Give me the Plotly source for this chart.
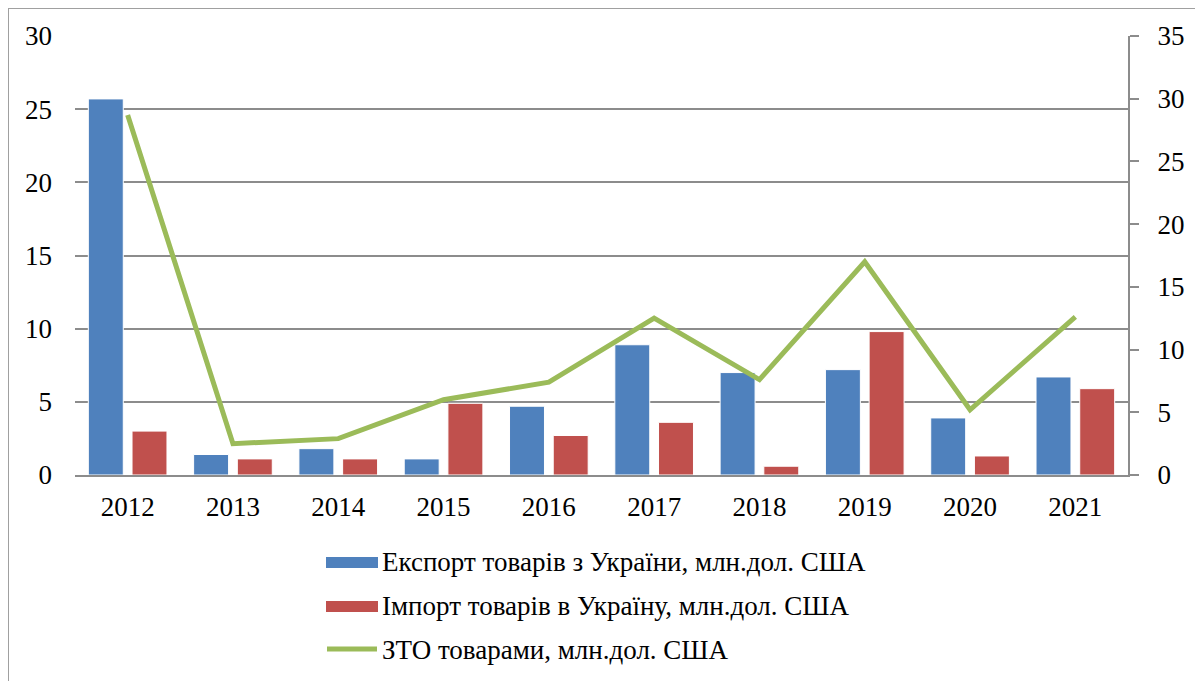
import plotly.graph_objects as go

years = ["2012", "2013", "2014", "2015", "2016", "2017", "2018", "2019", "2020", "2021"]
export_vals = [25.7, 1.4, 1.8, 1.1, 4.7, 8.9, 7.0, 7.2, 3.9, 6.7]
import_vals = [3.0, 1.1, 1.1, 4.9, 2.7, 3.6, 0.6, 9.8, 1.3, 5.9]
zto_vals = [28.7, 2.5, 2.9, 6.0, 7.4, 12.5, 7.6, 17.0, 5.2, 12.6]

names = ["Експорт товарів з України, млн.дол. США",
         "Імпорт товарів в Україну, млн.дол. США",
         "ЗТО товарами, млн.дол. США"]
colors = ["#4F81BD", "#C0504D", "#9BBB59"]

# page offset (body margin) compensation
OFF = 8
W, H = 1195, 673
L, T = 75 - OFF, 36 - OFF
PW, PH = 1053, 439
R = W - L - PW
B = H - T - PH
FONT = "Liberation Serif"
GRID = "#8C8C8C"
FS = 27

fig = go.Figure()
fig.add_trace(go.Bar(x=years, y=export_vals, name=names[0], marker_color=colors[0],
                     marker_line=dict(color="white", width=1), showlegend=False))
fig.add_trace(go.Bar(x=years, y=import_vals, name=names[1], marker_color=colors[1],
                     marker_line=dict(color="white", width=1), showlegend=False))
fig.add_trace(go.Scatter(x=years, y=zto_vals, name=names[2], mode="lines",
                         line=dict(color=colors[2], width=5), yaxis="y2", showlegend=False))


def px2x(px):
    return (px - OFF - L) / PW


def px2y(py):
    return (H - B - (py - OFF)) / PH


shapes = [
    dict(type="rect", xref="paper", yref="paper", x0=px2x(8), x1=px2x(1196),
         y0=px2y(720), y1=px2y(8), line=dict(color="#A0A0A0", width=2), layer="below"),
]
annotations = []
rows = [562, 606, 650]
for i, (nm, c, yy) in enumerate(zip(names, colors, rows)):
    if i < 2:
        shapes.append(dict(type="rect", xref="paper", yref="paper",
                           x0=px2x(326), x1=px2x(378), y0=px2y(yy + 6), y1=px2y(yy - 5),
                           fillcolor=c, line=dict(width=0)))
    else:
        shapes.append(dict(type="line", xref="paper", yref="paper",
                           x0=px2x(327), x1=px2x(377), y0=px2y(yy - 1), y1=px2y(yy - 1),
                           line=dict(color=c, width=5)))
    annotations.append(dict(xref="paper", yref="paper", x=px2x(380), y=px2y(yy),
                            xanchor="left", yanchor="middle", text=nm, showarrow=False,
                            font=dict(family=FONT, size=FS, color="black")))

fig.update_layout(
    width=W, height=H,
    margin=dict(l=L, r=R, t=T, b=B),
    paper_bgcolor="white", plot_bgcolor="white",
    barmode="group", bargap=0.17, bargroupgap=0.2,
    font=dict(family=FONT, size=FS, color="black"),
    showlegend=False,
    xaxis=dict(type="category", showgrid=False, showline=True, linecolor=GRID, linewidth=2,
               ticks="", ticklabelstandoff=7, tickfont=dict(family=FONT, size=FS, color="black")),
    yaxis=dict(range=[0, 30], dtick=5, showgrid=True, gridcolor=GRID, gridwidth=2,
               zeroline=False, showline=False, ticks="", ticklabelstandoff=22,
               tickfont=dict(family=FONT, size=FS, color="black")),
    yaxis2=dict(range=[0, 35], dtick=5, overlaying="y", side="right", showgrid=False,
                zeroline=False, showline=True, linecolor=GRID, linewidth=2,
                ticks="outside", ticklen=9, tickwidth=2, tickcolor=GRID,
                ticklabelstandoff=13, tickfont=dict(family=FONT, size=FS, color="black")),
    shapes=shapes,
    annotations=annotations,
)

fig.write_html("out.html")
